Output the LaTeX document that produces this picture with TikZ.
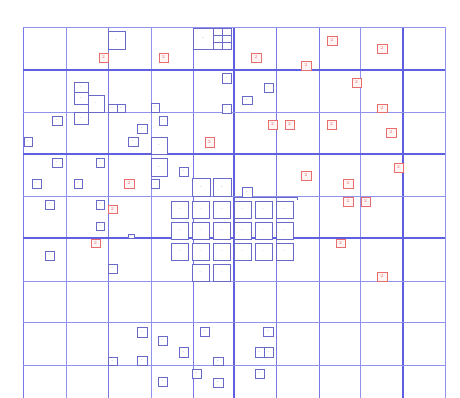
\documentclass[tikz,border=0pt]{standalone}
\begin{document}
\begin{tikzpicture}[x=1pt,y=-1pt,
  bb/.style={draw=boxb,fill=white,line width=0.9pt,inner sep=0pt,outer sep=0pt,text=boxb,font=\fontsize{3.5}{3.5}\selectfont},
  rb/.style={draw=boxr,fill=red!4,line width=0.9pt,inner sep=0pt,outer sep=0pt,text=boxr,font=\fontsize{4.5}{4.5}\selectfont},
  gthick/.style={draw=gridc,line width=1.3pt},
  gmid/.style={draw=gridc!85,line width=0.9pt},
  gthin/.style={draw=gridl,line width=0.7pt}]
\definecolor{gridc}{RGB}{95,95,225}
\definecolor{gridl}{RGB}{145,145,238}
\definecolor{boxb}{RGB}{105,105,200}
\definecolor{boxr}{RGB}{232,110,110}
\useasboundingbox (0,0) rectangle (460,398);
% grid
\foreach \x/\s in {23/gmid,66/gthin,108/gmid,151/gthin,193/gmid,234/gthick,276/gmid,319/gmid,360/gthin,403/gthick,445/gthin}
  \draw[\s] (\x,27) -- (\x,398);
\foreach \y/\s in {27/gthin,70/gthick,112/gthin,154/gthick,196/gthin,238/gthick,281/gthin,322/gthin,365/gthin}
  \draw[\s] (23,\y) -- (445,\y);
% blue boxes
\foreach \a/\b/\c/\d [count=\i] in {
  108/31/125/49, 193/28/213/49,
  74/82/88/92, 74/92/88/104, 88/95/104/112, 108/104/117/112, 117/104/125/112, 151/103/159/112,
  222/73/231/83, 222/104/231/113, 264/83/273/92, 242/96/252/104,
  74/112/88/124, 52/116/62/125, 24/137/32/146, 137/124/147/133, 128/137/138/146, 159/116/167/125, 151/137/167/154,
  52/158/62/167, 96/158/104/167, 151/158/167/176, 179/167/188/176, 32/179/41/188, 74/179/82/188, 151/179/159/188,
  192/178/210/196, 213/178/231/196, 242/187/252/197,
  45/200/54/209, 96/200/104/209, 96/222/104/230, 128/234/134/238, 45/251/54/260, 108/264/117/273,
  137/327/147/337, 158/336/167/345, 200/327/209/336, 263/327/273/336, 179/347/188/357, 108/357/117/365,
  137/356/147/365, 213/357/223/365, 255/347/264/357, 264/347/273/357,
  158/377/167/386, 192/369/201/378, 213/378/223/387, 255/369/264/378}
  \node[bb,minimum width={(\c-\a)*1pt},minimum height={(\d-\b)*1pt}] (b\i) at ({(\a+\c)/2},{(\b+\d)/2}) {-};
% small grid box at top
\foreach \a/\b/\c/\d [count=\i] in {213/28/222/35, 222/28/231/35, 213/35/222/42, 222/35/231/42, 213/42/222/49, 222/42/231/49}
  \node[bb,minimum width={(\c-\a)*1pt},minimum height={(\d-\b)*1pt}] (g\i) at ({(\a+\c)/2},{(\b+\d)/2}) {};
% central cluster
\foreach \y [count=\j] in {201,222,243}
  \foreach \x [count=\k] in {171,192,213,234,255,276}
    \node[bb,minimum width=17pt,minimum height=17pt] (c\j\k) at (\x+8.5,\y+8.5) {--};
\foreach \x [count=\k] in {192,213}
  \node[bb,minimum width=17pt,minimum height=17pt] (d\k) at (\x+8.5,272.5) {--};
\coordinate (t1) at (234,197);
\coordinate (t2) at (297,197);
\coordinate (t3) at (297,200);
\draw[boxb,line width=0.6pt] (t1) -- (t2) -- (t3);
% red boxes
\foreach \a/\b/\c/\d [count=\i] in {
  99/53/108/62, 159/53/168/62, 251/53/261/62, 301/61/311/70, 327/36/337/45, 377/44/387/53,
  352/78/361/87, 377/104/387/112, 268/120/277/129, 285/120/294/129, 327/120/336/129, 386/128/396/137,
  205/137/214/147, 124/179/134/188, 301/171/311/180, 343/179/353/188, 394/163/403/172,
  108/205/117/213, 91/239/100/247, 343/197/353/206, 361/197/370/206, 336/239/345/247, 377/272/387/281}
  \node[rb,minimum width={(\c-\a)*1pt},minimum height={(\d-\b)*1pt}] (r\i) at ({(\a+\c)/2},{(\b+\d)/2}) {2};
\end{tikzpicture}
\end{document}
